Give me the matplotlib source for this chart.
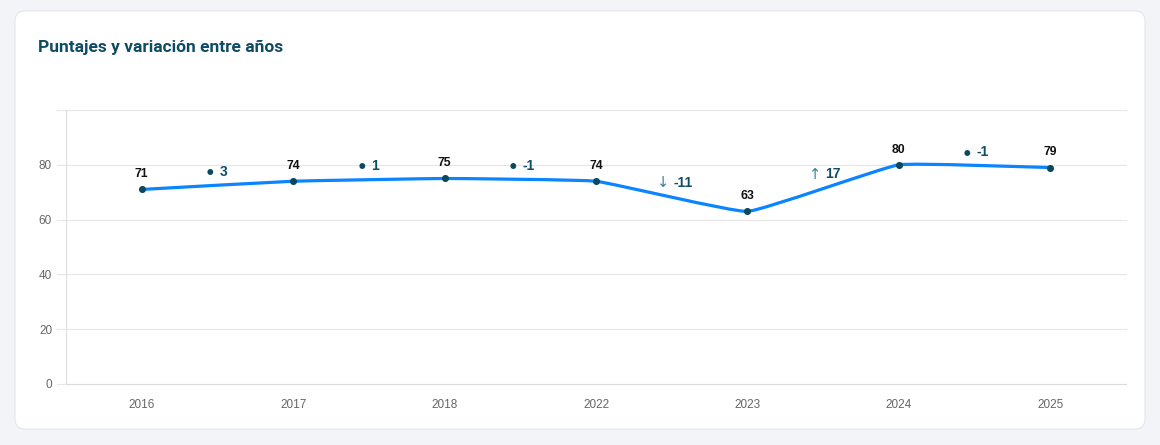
import numpy as np
import matplotlib
matplotlib.use("Agg")
import matplotlib.pyplot as plt
from matplotlib.patches import FancyBboxPatch
from matplotlib.path import Path
from matplotlib.patches import PathPatch

# ---- data ----
years = ["2016", "2017", "2018", "2022", "2023", "2024", "2025"]
scores = [71, 74, 75, 74, 63, 80, 79]
variations = [3, 1, -1, -11, 17, -1]
var_icons = ["•", "•", "•", "↓", "↑", "•"]
y_ticks = [0, 20, 40, 60, 80]
title = "Puntajes y variación entre años"

W, H = 1160, 445
fig = plt.figure(figsize=(W / 100, H / 100), dpi=100)
fig.patch.set_facecolor("#f3f4f8")

# background card
bg = fig.add_axes([0, 0, 1, 1])
bg.set_xlim(0, W)
bg.set_ylim(H, 0)
bg.axis("off")
card = FancyBboxPatch((15, 11), 1130, 418, boxstyle="round,pad=0,rounding_size=10",
                      facecolor="white", edgecolor="#e4e6eb", linewidth=0.8)
bg.add_patch(card)
bg.text(38, 47, title, fontsize=12.5, fontweight="bold", color="#0e4c66",
        family=["Roboto", "DejaVu Sans"], va="center", ha="left")

# plot axes
left, right, top, bottom = 66, 1126, 110, 384
ax = fig.add_axes([left / W, (H - bottom) / H, (right - left) / W, (bottom - top) / H])
ax.set_facecolor("none")
ax.set_xlim(-0.5, len(years) - 0.5)
ax.set_ylim(0, 100)

for s in ["top", "right"]:
    ax.spines[s].set_visible(False)
ax.spines["left"].set_color("#dddddd")
ax.spines["bottom"].set_color("#dddddd")

xpx = (right - left) / len(years)   # pixels per category
ypx = (bottom - top) / 100.0        # pixels per unit

for v in y_ticks + [100]:
    ax.plot([-0.5 - 9 / xpx, len(years) - 0.5], [v, v], color="#e6e6e6", lw=0.8,
            clip_on=False, zorder=0)

ax.set_yticks(y_ticks)
ax.set_yticklabels([str(v) for v in y_ticks])
ax.tick_params(axis="y", length=0, pad=10, labelsize=8.5, labelcolor="#666666")
ax.set_xticks(range(len(years)))
ax.set_xticklabels(years)
ax.tick_params(axis="x", length=0, pad=11, labelsize=8.5, labelcolor="#666666")
for lab in ax.get_xticklabels() + ax.get_yticklabels():
    lab.set_family(["Liberation Sans", "DejaVu Sans"])

# Chart.js-like tension bezier through the points (computed in pixel space)
x = np.arange(len(scores), dtype=float)
y = np.array(scores, dtype=float)
P = np.column_stack([x * xpx, y * ypx])
tension = 0.1
n = len(P)
cp_prev = P.copy()
cp_next = P.copy()
for i in range(n):
    prev = P[max(i - 1, 0)]
    nxt = P[min(i + 1, n - 1)]
    cur = P[i]
    d01 = np.hypot(*(cur - prev))
    d12 = np.hypot(*(nxt - cur))
    tot = d01 + d12
    s01 = d01 / tot if tot else 0
    s12 = d12 / tot if tot else 0
    cp_prev[i] = cur - tension * s01 * (nxt - prev)
    cp_next[i] = cur + tension * s12 * (nxt - prev)
verts = [tuple(P[0])]
codes = [Path.MOVETO]
for i in range(n - 1):
    verts += [tuple(cp_next[i]), tuple(cp_prev[i + 1]), tuple(P[i + 1])]
    codes += [Path.CURVE4] * 3
verts = [(vx / xpx, vy / ypx) for vx, vy in verts]
ax.add_patch(PathPatch(Path(verts, codes), facecolor="none", edgecolor="#0a84ff",
                       lw=2.3, capstyle="round", joinstyle="round", zorder=3))
ax.scatter(x, y, s=26, color="#0b4a5e", zorder=4, linewidths=0)

# value labels
for xi, v in zip(x, scores):
    ax.annotate(str(v), (xi, v), xytext=(0, 11), textcoords="offset points",
                ha="center", va="center", fontsize=8.8, fontweight="bold",
                color="#111111", family=["Liberation Sans", "DejaVu Sans"])

# variation labels at midpoints
for i, (dv, icon) in enumerate(zip(variations, var_icons)):
    xm = i + 0.5
    ym = (scores[i] + scores[i + 1]) / 2 + 5
    if icon == "•":
        ax.annotate(icon, (xm, ym), xytext=(-1.5, -1.5), textcoords="offset points",
                    ha="right", va="center", fontsize=12, color="#0b4a5e",
                    family=["DejaVu Sans"], fontweight="bold")
    else:
        ax.annotate(icon, (xm, ym), xytext=(-1.5, 0), textcoords="offset points",
                    ha="right", va="center", fontsize=10.5, color="#3a8397",
                    family=["DejaVu Sans"])
    ax.annotate(f"{dv}", (xm, ym), xytext=(1.5, 0), textcoords="offset points",
                ha="left", va="center", fontsize=10, fontweight="bold",
                color="#0e4c66", family=["Liberation Sans", "DejaVu Sans"])

fig.savefig("out.png", dpi=100, facecolor=fig.get_facecolor())
